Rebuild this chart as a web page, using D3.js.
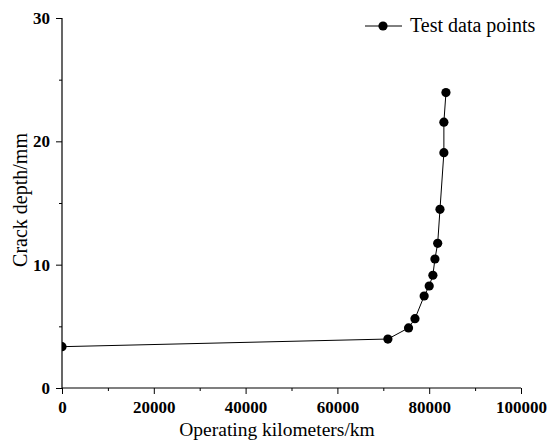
<!DOCTYPE html>
<html>
<head>
<meta charset="utf-8">
<script src="https://cdn.jsdelivr.net/npm/d3@7"></script>
<style>
  body { margin: 0; background: #fff; }
</style>
</head>
<body>
<div id="chart-area"></div>
<script>
// dados
const kilometers = [0, 71000, 75500, 76900, 78900, 80000, 80800, 81250, 81850, 82350, 83200, 83200, 83650]
const crackDepth = [3.35, 3.97, 4.87, 5.62, 7.46, 8.27, 9.14, 10.46, 11.73, 14.49, 19.08, 21.55, 23.95]
const xTicks = [0, 20000, 40000, 60000, 80000, 100000]
const yTicks = [0, 10, 20, 30]
const seriesName = "Test data points"

const FONT = "'Liberation Serif', 'Times New Roman', serif"
const W = 547, H = 443
const MARGIN = { LEFT: 62, RIGHT: 26, TOP: 18, BOTTOM: 55 }
const WIDTH = W - MARGIN.LEFT - MARGIN.RIGHT
const HEIGHT = H - MARGIN.TOP - MARGIN.BOTTOM

const svg = d3.select("#chart-area").append("svg")
  .attr("width", W)
  .attr("height", H)
  .attr("font-family", FONT)

const g = svg.append("g")
  .attr("transform", `translate(${MARGIN.LEFT}, ${MARGIN.TOP})`)

const x = d3.scaleLinear().domain([0, 100000]).range([0, WIDTH])
const y = d3.scaleLinear().domain([0, 30]).range([HEIGHT, 0])

const data = kilometers.map((k, i) => ({ km: k, depth: crackDepth[i] }))

// ticks menores
const xMinor = d3.range(10000, 100000, 20000)
const yMinor = [5, 15, 25]

const xAxis = g.append("g")
  .attr("transform", `translate(0, ${HEIGHT})`)
  .call(d3.axisBottom(x).tickValues(xTicks).tickFormat(d3.format("d")).tickSize(6).tickPadding(7))
g.append("g")
  .attr("transform", `translate(0, ${HEIGHT})`)
  .call(d3.axisBottom(x).tickValues(xMinor).tickFormat("").tickSize(3))
  .select(".domain").remove()

const yAxis = g.append("g")
  .call(d3.axisLeft(y).tickValues(yTicks).tickSize(6).tickPadding(6))
g.append("g")
  .call(d3.axisLeft(y).tickValues(yMinor).tickFormat("").tickSize(3))
  .select(".domain").remove()

g.selectAll("g").attr("font-family", FONT)
xAxis.select(".domain").attr("d", `M0,0H${WIDTH}`).attr("stroke-width", 1.2)
yAxis.select(".domain").attr("d", `M0,0V${HEIGHT}`).attr("stroke-width", 1.2)
g.selectAll(".tick line").attr("stroke", "#000").attr("stroke-width", 1)
g.selectAll(".tick text")
  .attr("font-family", FONT)
  .attr("font-size", "17px")
  .attr("font-weight", "bold")
  .attr("fill", "#000")

// títulos dos eixos
svg.append("text")
  .attr("x", 277)
  .attr("y", 436)
  .attr("text-anchor", "middle")
  .attr("font-size", "19.5px")
  .text("Operating kilometers/km")

svg.append("text")
  .attr("transform", "rotate(-90)")
  .attr("x", -200)
  .attr("y", 27)
  .attr("text-anchor", "middle")
  .attr("font-size", "20px")
  .text("Crack depth/mm")

// recorte da área do gráfico
svg.append("clipPath").attr("id", "clip")
  .append("rect").attr("x", 0).attr("y", -10).attr("width", WIDTH + 10).attr("height", HEIGHT + 10)

const plot = g.append("g").attr("clip-path", "url(#clip)")

const line = d3.line()
  .x(d => x(d.km))
  .y(d => y(d.depth))

plot.append("path")
  .attr("fill", "none")
  .attr("stroke", "#000")
  .attr("stroke-width", 1)
  .attr("d", line(data))

plot.selectAll("circle")
  .data(data)
  .enter().append("circle")
  .attr("cx", d => x(d.km))
  .attr("cy", d => y(d.depth))
  .attr("r", 4.6)
  .attr("fill", "#000")

// legenda
const legend = svg.append("g").attr("transform", "translate(365, 26)")
legend.append("line")
  .attr("x1", 0).attr("x2", 37)
  .attr("stroke", "#000").attr("stroke-width", 1)
legend.append("circle")
  .attr("cx", 18).attr("r", 4.6).attr("fill", "#000")
legend.append("text")
  .attr("x", 45).attr("y", 6)
  .attr("font-size", "20px")
  .text(seriesName)
</script>
</body>
</html>
